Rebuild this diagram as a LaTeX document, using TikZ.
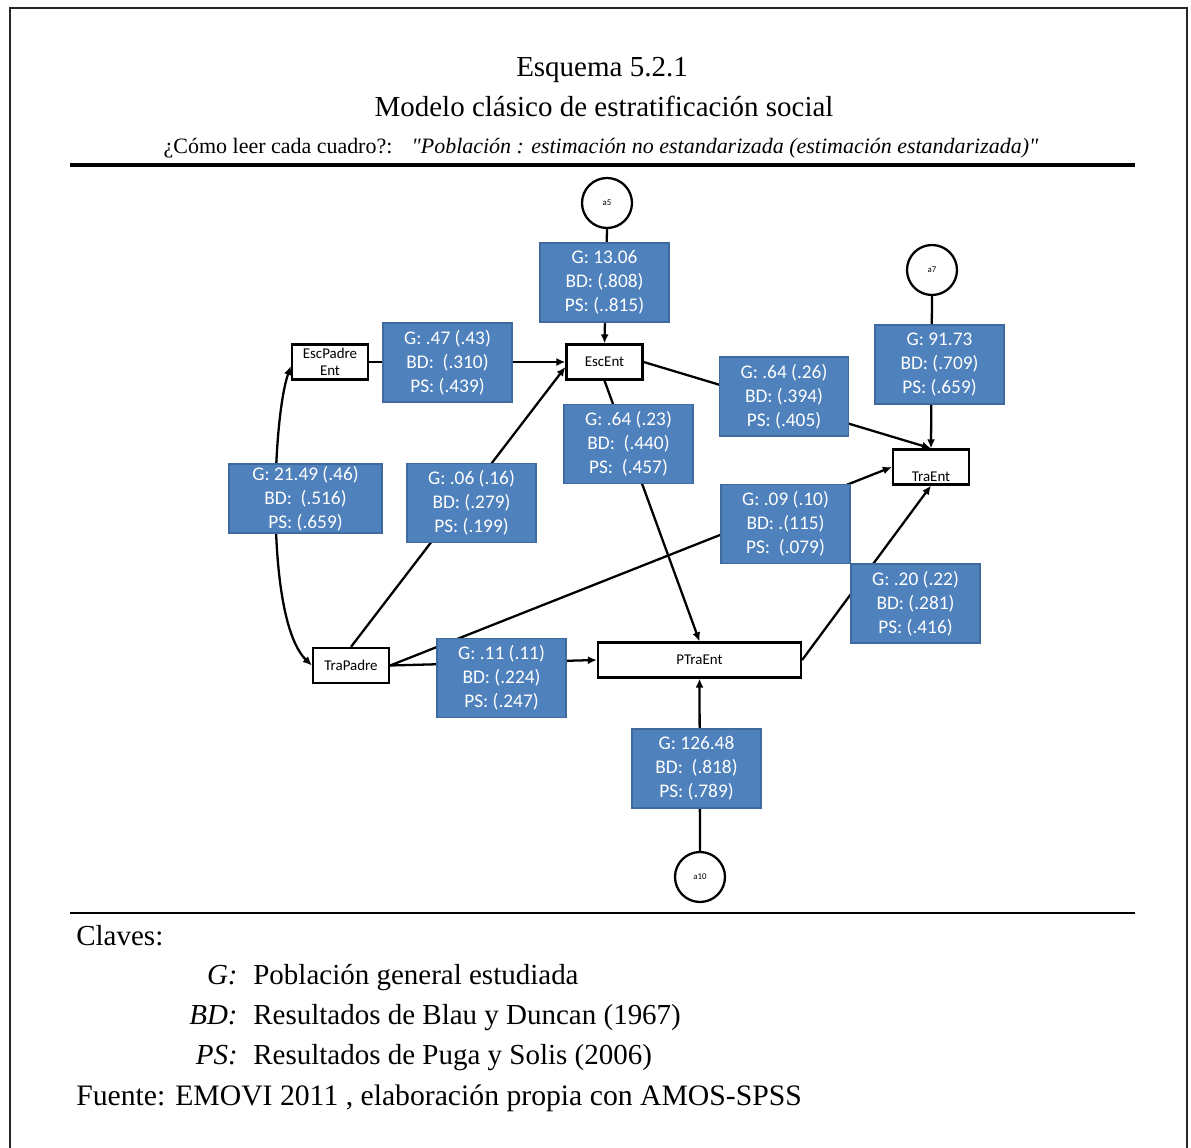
\documentclass[tikz,border=0pt]{standalone}
\usepackage{fontspec}
\setmainfont{Liberation Serif}
\newfontfamily\carlito{Carlito}
\usetikzlibrary{arrows.meta}
\definecolor{coefblue}{HTML}{4F81BD}
\definecolor{coefline}{HTML}{3F6A9E}

\begin{document}
\begin{tikzpicture}[x=0.02cm,y=-0.02cm,
  vbox/.style={draw,line width=1.3pt,minimum width=1.52cm,minimum height=0.7cm,inner sep=1pt,align=center,font=\carlito\fontsize{8.5}{10}\selectfont},
  err/.style={draw,circle,line width=1.3pt,minimum size=1cm,inner sep=0pt,font=\carlito\fontsize{5}{6}\selectfont},
  coef/.style={draw=coefline,fill=coefblue,line width=0.6pt,text=white,minimum width=2.58cm,minimum height=1.58cm,inner sep=1pt,align=center,font=\carlito\fontsize{11}{13.6}\selectfont},
  arr/.style={-{Latex[length=1.8mm,width=1.6mm]},line width=1.3pt},
  txt/.style={inner sep=0pt,anchor=base,font=\fontsize{16.5}{18}\selectfont}]
\useasboundingbox (0,0) rectangle (1191,1148);
% frame and rules
\draw[line width=0.8pt,black!85] (10,1150) -- (10,8) -- (1187,8) -- (1187,1150);
\draw[line width=1.8pt] (70,165) -- (1135,165);
\draw[line width=1.2pt] (70,913) -- (1135,913);
% heading
\node[txt] (title) at (602,77) {Esquema 5.2.1};
\node[txt] (subtitle) at (604,117) {Modelo clásico de estratificación social};
\node[txt,font=\fontsize{12.5}{14}\selectfont] (howto) at (601,154) {¿Cómo leer cada cuadro?:\hspace{11pt}{\itshape \textquotedbl Población : estimación no estandarizada (estimación estandarizada)\textquotedbl}};
% variables
\node[err] (a5) at (607,203) {a5};
\node[err] (a7) at (932,270) {a7};
\node[err] (a10) at (700,877) {a10};
\node[vbox] (ep) at (330,362) {EscPadre\\Ent};
\node[vbox] (ee) at (604.5,362) {EscEnt};
\node[vbox] (te) at (931,467) {\raisebox{-8pt}[0pt][0pt]{TraEnt}};
\node[vbox] (tp) at (351,665.5) {TraPadre};
\node[vbox,minimum width=4.06cm] (pt) at (699.5,660) {PTraEnt};
% paths
\draw[arr] (a5.south) -- (ee.north);
\draw[arr] (ep.east) -- (ee.west);
\draw[arr] (tp.north) -- ([yshift=-0.1cm]ee.west);
\draw[arr] (ee.east) -- (te.north);
\draw[arr] (a7.south) -- (te.north);
\draw[arr] (ee.south) -- (pt.north);
\draw[arr] (tp.east) -- (te.west);
\draw[arr] (tp.east) -- (pt.west);
\draw[arr] (pt.east) -- (te.south);
\draw[arr] (a10.north) -- (pt.south);
\draw[{Latex[length=1.8mm,width=1.6mm]}-{Latex[length=1.8mm,width=1.6mm]},line width=1.3pt]
  ([yshift=-0.08cm]ep.west) .. controls (272,420) and (265,620) .. (tp.west);
% coefficients
\node[coef] (c1) at (604.5,282.5) {G: 13.06\\BD: (.808)\\PS: (..815)};
\node[coef] (c2) at (447.5,362.5) {G: .47 (.43)\\BD:\ \ (.310)\\PS: (.439)};
\node[coef] (c3) at (784,396.5) {G: .64 (.26)\\BD: (.394)\\PS: (.405)};
\node[coef] (c4) at (939.5,364.5) {G: 91.73\\BD: (.709)\\PS: (.659)};
\node[coef] (c5) at (628.5,444) {G: .64 (.23)\\BD:\ \ (.440)\\PS:\ \ (.457)};
\node[coef,minimum width=3.06cm,minimum height=1.38cm] (c6) at (305.5,498.5) {G: 21.49 (.46)\\BD:\ \ (.516)\\PS: (.659)};
\node[coef] (c7) at (471.5,503) {G: .06 (.16)\\BD: (.279)\\PS: (.199)};
\node[coef] (c8) at (785.5,524) {G: .09 (.10)\\BD: .(115)\\PS:\ \ (.079)};
\node[coef] (c9) at (915.5,603.5) {G: .20 (.22)\\BD: (.281)\\PS: (.416)};
\node[coef] (c10) at (501.5,678) {G: .11 (.11)\\BD: (.224)\\PS: (.247)};
\node[coef] (c11) at (696.5,768.5) {G: 126.48\\BD:\ \ (.818)\\PS: (.789)};
% legend
\node[txt,anchor=base west] (claves) at (76,946) {Claves:};
\node[txt,anchor=base east] (kg) at (238,984) {\itshape G:};
\node[txt,anchor=base west] (dg) at (253,984) {Población general estudiada};
\node[txt,anchor=base east] (kbd) at (238,1024) {\itshape BD:};
\node[txt,anchor=base west] (dbd) at (253,1024) {Resultados de Blau y Duncan (1967)};
\node[txt,anchor=base east] (kps) at (238,1064) {\itshape PS:};
\node[txt,anchor=base west] (dps) at (253,1064) {Resultados de Puga y Solis (2006)};
\node[txt,anchor=base west,font=\fontsize{16.9}{18}\selectfont] (fuente) at (76,1105) {Fuente: EMOVI 2011 , elaboración propia con AMOS-SPSS};
\end{tikzpicture}
\end{document}
